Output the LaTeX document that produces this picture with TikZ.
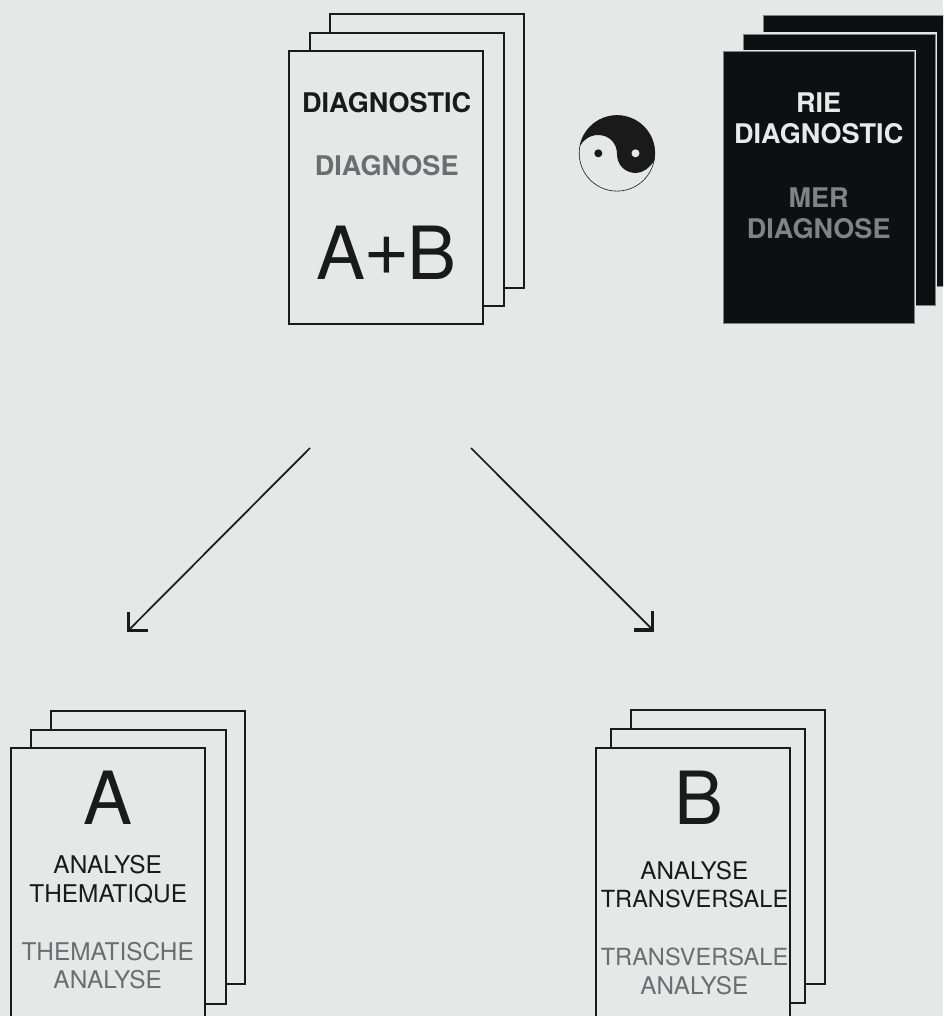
\documentclass[tikz,border=0pt]{standalone}
\usepackage{fontspec}
\setmainfont{TeX Gyre Heros}
\newfontfamily\plusfont{Liberation Sans}
\usetikzlibrary{fit,arrows.meta}
\definecolor{bgc}{HTML}{E6E8E7}
\definecolor{ink}{HTML}{1A1A1B}
\definecolor{midgray}{HTML}{6B6D6F}
\definecolor{softgray}{HTML}{808285}
\definecolor{sheetblack}{HTML}{0D1011}
\definecolor{paleink}{HTML}{E8E9E9}
\tikzset{
  sheetw/.style={draw=ink,fill=bgc,line width=1.5pt,inner sep=0pt,outer sep=0pt,rectangle},
  sheetk/.style={preaction={draw=bgc,line width=3pt},draw=softgray,line width=.4pt,fill=sheetblack,inner sep=0pt,outer sep=0pt,rectangle},
  lab/.style={anchor=base,inner sep=0pt,outer sep=0pt,align=center},
  boldt/.style={lab,font=\fontsize{20.3}{24}\selectfont\bfseries},
  regt/.style={lab,font=\fontsize{18.3}{22}\selectfont},
  regu/.style={lab,font=\fontsize{18.2}{22}\selectfont},
  regv/.style={lab,font=\fontsize{17.7}{22}\selectfont},
  bigt/.style={lab,font=\fontsize{55}{60}\selectfont,text=ink},
  flow/.style={draw=ink,line width=1.3pt},
  barb/.style={draw=ink,line width=2.3pt,miter limit=10,line join=miter}
}
\begin{document}
\begin{tikzpicture}[x=.75pt,y=-.75pt]
\useasboundingbox (0,0) rectangle (943,1016);
\fill[bgc] (0,0) rectangle (943,1016);
\begin{scope}
\clip (0,0) rectangle (943,1016);
% top white stack
\node[sheetw,fit={(329.7,13.7) (523.7,287.7)}] (tw3) {};
\node[sheetw,fit={(310,32.7) (504,306)}] (tw2) {};
\node[sheetw,fit={(289.4,50.7) (483.4,324.4)}] (tw1) {};
% top black stack
\node[sheetk,fit={(763.3,15) (960,286)}] (tk3) {};
\node[sheetk,fit={(743.7,34) (935,305)}] (tk2) {};
\node[sheetk,fit={(723.3,51.7) (914.3,323.3)}] (tk1) {};
% left stack
\node[sheetw,fit={(51,710.7) (245,984.3)}] (la3) {};
\node[sheetw,fit={(31.3,729.7) (225.7,1003.7)}] (la2) {};
\node[sheetw,fit={(10.7,747.7) (204.7,1040)}] (la1) {};
% right stack
\node[sheetw,fit={(630.7,710.3) (824.7,984)}] (ra3) {};
\node[sheetw,fit={(611.3,729) (805.3,1003)}] (ra2) {};
\node[sheetw,fit={(596.3,747.7) (790,1040)}] (ra1) {};
\end{scope}
% top white text
\node[boldt,text=ink] (t1) at (386.7,112.7) {DIAGNOSTIC};
\node[boldt,text=midgray] (t2) at (386.7,175.3) {DIAGNOSE};
\node[bigt] (t3) at (386.5,279.3) {A{\plusfont +}B};
% top black text
\node[boldt,text=paleink] (k1) at (818.7,113) {RIE};
\node[boldt,text=paleink] (k2) at (818.7,144) {DIAGNOSTIC};
\node[boldt,text=softgray] (k3) at (818.7,207.3) {MER};
\node[boldt,text=softgray] (k4) at (818.7,238.7) {DIAGNOSE};
% left text
\node[bigt] (a0) at (107.7,824.3) {A};
\node[regt,text=ink] (a1) at (107.7,873.7) {ANALYSE};
\node[regt,text=ink] (a2) at (108.2,902.3) {THEMATIQUE};
\node[regt,text=midgray] (a3) at (107.7,960) {THEMATISCHE};
\node[regt,text=midgray] (a4) at (107.7,988.7) {ANALYSE};
% right text
\node[bigt] (b0) at (698.7,824.3) {B};
\node[regu,text=ink] (b1) at (694.3,879.7) {ANALYSE};
\node[regv,text=ink] (b2) at (694.5,907.7) {TRANSVERSALE};
\node[regv,text=midgray] (b3) at (694.5,965.3) {TRANSVERSALE};
\node[regu,text=midgray] (b4) at (694.3,994) {ANALYSE};
% arrows
\coordinate (sl) at (310,448);
\coordinate (el) at (128.5,630.3);
\coordinate (sr) at (471,448);
\coordinate (er) at (652.8,630);
\draw[flow] (sl) -- (el);
\draw[flow] (sr) -- (er);
\draw[barb] (el) ++(0,-18.6) -- (el) -- ++(19.2,0);
\draw[barb] (er) ++(0,-18.6) -- (er) -- ++(-19.2,0);
% yin-yang
\draw[fill=bgc,draw=ink,line width=.45pt] (617,153.3) circle[radius=37.8];
\fill[ink] (580,146) arc[start angle=191,end angle=372,radius=37.8]
  .. controls (649,168) and (643,173) .. (636,173)
  .. controls (625,173) and (617,165) .. (617,154)
  .. controls (617,143) and (609,135) .. (598,135)
  .. controls (590,135) and (583,140) .. (580,146) -- cycle;
\fill[ink] (598.3,153.3) circle[radius=4];
\fill[bgc] (635.5,153.3) circle[radius=4];
\end{tikzpicture}
\end{document}
